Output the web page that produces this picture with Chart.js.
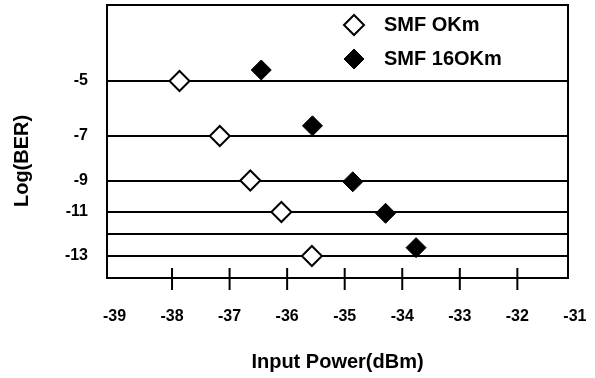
<!DOCTYPE html>
<html>
<head>
<meta charset="utf-8">
<script src="https://cdn.jsdelivr.net/npm/chart.js@4.4.1/dist/chart.umd.min.js"></script>
<style>
  body { margin: 0; background: #fff; }
  #wrap { width: 595px; height: 378px; }
</style>
</head>
<body>
<div id="wrap"><canvas id="berChart" width="595" height="378"></canvas></div>
<script>
// values
const seriesNames = ["SMF OKm", "SMF 16OKm"];
const power0km = [-37.87, -37.17, -36.64, -36.10, -35.57];
const ber0km = [-5, -7, -9, -11, -13];
const power160km = [-36.45, -35.56, -34.86, -34.29, -33.76];
const ber160km = [-4.6, -6.63, -9.08, -11.06, -12.62];
const xTicks = [-39, -38, -37, -36, -35, -34, -33, -32, -31];
const yTicks = [-5, -7, -9, -11, -12, -13];
const yTickLabels = ["-5", "-7", "-9", "-11", "", "-13"];

// the printed y axis is not evenly spaced: value -> fraction of plot height from top
const yLevels = [[-2.24, 0], [-5, 0.2784], [-7, 0.4799], [-9, 0.6429], [-11, 0.7582], [-12, 0.8388], [-13, 0.9194], [-14, 1]];

function levelFraction(v) {
  for (let i = 1; i < yLevels.length; i++) {
    const [v0, f0] = yLevels[i - 1], [v1, f1] = yLevels[i];
    if (v >= v1 || i === yLevels.length - 1) return f0 + (v - v0) / (v1 - v0) * (f1 - f0);
  }
}
function fractionLevel(f) {
  for (let i = 1; i < yLevels.length; i++) {
    const [v0, f0] = yLevels[i - 1], [v1, f1] = yLevels[i];
    if (f <= f1 || i === yLevels.length - 1) return v0 + (f - f0) / (f1 - f0) * (v1 - v0);
  }
}

class BerScale extends Chart.LinearScale {
  getPixelForValue(value) {
    if (value === null || value === undefined) return NaN;
    return this.top + levelFraction(value) * (this.bottom - this.top);
  }
  getValueForPixel(pixel) {
    return fractionLevel((pixel - this.top) / (this.bottom - this.top));
  }
}
BerScale.id = "ber";
BerScale.defaults = Chart.LinearScale.defaults;
Chart.register(BerScale);

const FONT = "'Liberation Sans', Arial, sans-serif";

function toPoints(xs, ys) {
  return xs.map((x, i) => ({ x: x, y: ys[i] }));
}

// fixed axis box, no extra label padding pushed into the layout
function fixBox(s, size) {
  if (s.isHorizontal()) s.height = size; else s.width = size;
  s.paddingTop = s.paddingBottom = s.paddingLeft = s.paddingRight = 0;
}

// frame + tick marks crossing the bottom axis
const frame = {
  id: "frame",
  afterDraw(chart) {
    const { ctx, chartArea } = chart;
    const xs = chart.scales.x;
    ctx.save();
    ctx.strokeStyle = "#000";
    ctx.lineWidth = 2;
    ctx.strokeRect(chartArea.left, chartArea.top, chartArea.right - chartArea.left, chartArea.bottom - chartArea.top);
    xs.ticks.forEach((t) => {
      if (t.value <= xTicks[0] || t.value >= xTicks[xTicks.length - 1]) return;
      const px = xs.getPixelForValue(t.value);
      ctx.beginPath();
      ctx.moveTo(px, chartArea.bottom - 10);
      ctx.lineTo(px, chartArea.bottom + 12);
      ctx.stroke();
    });
    ctx.restore();
  }
};

// legend sits inside the plot, top right
const cornerLegend = {
  id: "cornerLegend",
  afterDraw(chart) {
    const { ctx, chartArea } = chart;
    chart.data.datasets.forEach((ds, i) => {
      const x = chartArea.left + 247;
      const y = chartArea.top + 20 + i * 34;
      ctx.save();
      ctx.fillStyle = ds.backgroundColor;
      ctx.strokeStyle = ds.borderColor;
      ctx.lineWidth = ds.borderWidth;
      Chart.helpers.drawPoint(ctx, { pointStyle: "rectRot", radius: ds.pointRadius, borderWidth: ds.borderWidth }, x, y);
      ctx.fillStyle = "#000";
      ctx.font = "bold 20px " + FONT;
      ctx.textBaseline = "middle";
      ctx.fillText(ds.label, x + 30, y);
      ctx.restore();
    });
  }
};

new Chart(document.getElementById("berChart"), {
  type: "scatter",
  data: {
    datasets: [
      {
        label: seriesNames[0],
        data: toPoints(power0km, ber0km),
        pointStyle: "rectRot",
        pointRadius: 10,
        backgroundColor: "#fff",
        borderColor: "#000",
        borderWidth: 2,
      },
      {
        label: seriesNames[1],
        data: toPoints(power160km, ber160km),
        pointStyle: "rectRot",
        pointRadius: 10,
        backgroundColor: "#000",
        borderColor: "#000",
        borderWidth: 1,
      },
    ],
  },
  options: {
    responsive: false,
    animation: false,
    layout: { autoPadding: false, padding: { top: 5, right: 27, left: 0, bottom: 0 } },
    plugins: {
      legend: { display: false },
      tooltip: { enabled: false },
    },
    scales: {
      x: {
        type: "linear",
        min: -39.13,
        max: -31.12,
        afterBuildTicks: (s) => { s.ticks = xTicks.map((v) => ({ value: v })); },
        afterFit: (s) => fixBox(s, 100),
        grid: { display: false, drawTicks: false },
        border: { display: false },
        ticks: {
          autoSkip: false,
          padding: 29,
          color: "#000",
          font: { family: FONT, size: 16, weight: "bold" },
          callback: (v) => String(v),
        },
        title: {
          display: true,
          text: "Input Power(dBm)",
          color: "#000",
          font: { family: FONT, size: 20, weight: "bold" },
          padding: { top: 0, bottom: 4 },
        },
      },
      y: {
        type: "ber",
        min: -14,
        max: -2.24,
        afterBuildTicks: (s) => { s.ticks = yTicks.map((v) => ({ value: v })); },
        afterFit: (s) => fixBox(s, 107),
        grid: { color: "#000", lineWidth: 2, drawTicks: false },
        border: { display: false },
        ticks: {
          autoSkip: false,
          padding: 19,
          color: "#000",
          font: { family: FONT, size: 16, weight: "bold" },
          callback: (v, i) => yTickLabels[i],
        },
        title: {
          display: true,
          text: "Log(BER)       ",
          color: "#000",
          font: { family: FONT, size: 20, weight: "bold" },
          padding: { top: 10, bottom: 0 },
        },
      },
    },
  },
  plugins: [frame, cornerLegend],
});
</script>
</body>
</html>
